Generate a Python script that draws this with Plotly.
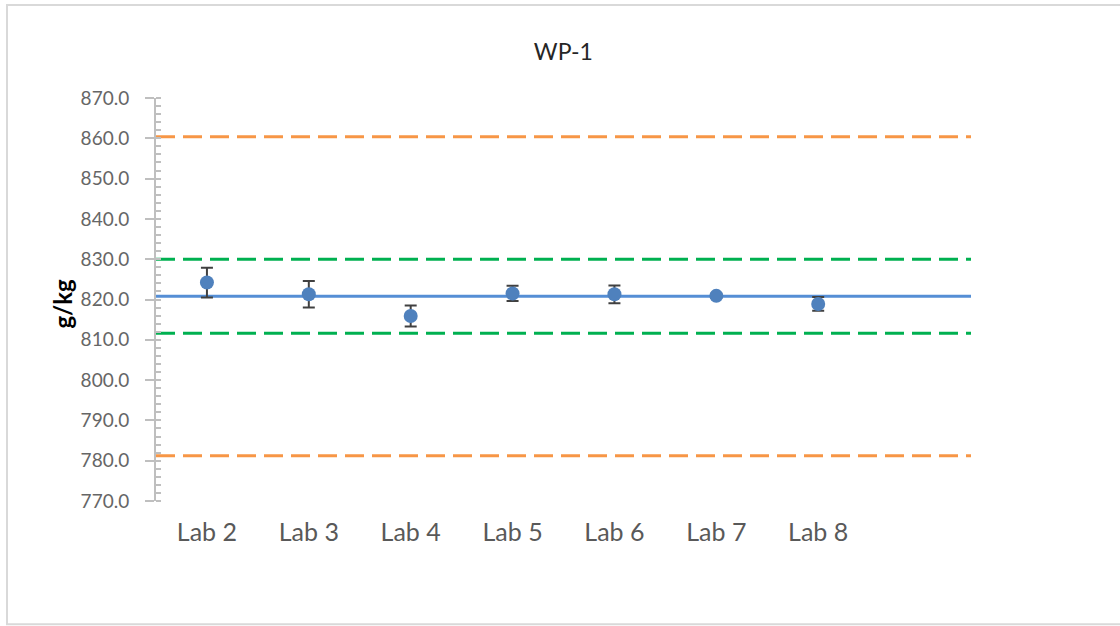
import plotly.graph_objects as go

labs = ["Lab 2", "Lab 3", "Lab 4", "Lab 5", "Lab 6", "Lab 7", "Lab 8"]
values = [824.2, 821.3, 815.9, 821.5, 821.3, 820.9, 818.9]
errors = [3.7, 3.3, 2.6, 1.9, 2.2, 0.5, 1.7]
assigned_value = 820.8
inner_limits = [830.0, 811.6]
outer_limits = [860.4, 781.2]
y_ticks = [770, 780, 790, 800, 810, 820, 830, 840, 850, 860, 870]

x_pos = list(range(len(labs)))

fig = go.Figure()

fig.add_trace(go.Scatter(
    x=x_pos, y=values, mode="markers",
    marker=dict(size=14, color="#4F81BD"),
    error_y=dict(type="data", array=errors, visible=True,
                 color="#404040", thickness=2, width=6),
    showlegend=False, hoverinfo="skip",
))

fig.update_layout(
    width=1120, height=626,
    margin=dict(l=156, r=149, t=98, b=125),
    paper_bgcolor="white", plot_bgcolor="white",
    font=dict(family="Lato, Liberation Sans, sans-serif", color="#595959"),
    title=dict(text="WP-1", x=0.503, xanchor="center", y=0.917, yanchor="middle",
               font=dict(size=23, color="#262626", family="Lato, sans-serif")),
    xaxis=dict(
        range=[-0.5, 7.5], tickvals=x_pos, ticktext=labs,
        showgrid=False, zeroline=False, showline=False, ticks="",
        tickfont=dict(size=25, color="#595959"), ticklabelstandoff=14,
    ),
    yaxis=dict(
        range=[770, 870], tickvals=y_ticks, tickformat=".1f",
        showgrid=False, zeroline=False,
        showline=True, linecolor="#BFBFBF", linewidth=2,
        ticks="outside", ticklen=9, tickwidth=2, tickcolor="#BFBFBF",
        minor=dict(dtick=2, ticks="inside", ticklen=5, tickwidth=2, tickcolor="#BFBFBF"),
        tickfont=dict(size=19, color="#666666"), ticklabelstandoff=12,
    ),
    annotations=[dict(text="<b>g/kg</b>", textangle=-90, xref="paper", yref="paper",
                      x=-0.1153, y=0.49, showarrow=False, xanchor="center", yanchor="middle",
                      font=dict(size=24, color="#000000", family="Lato, sans-serif"))],
)

for yv in outer_limits:
    fig.add_hline(y=yv, line=dict(color="#F79646", width=3, dash="19px,8px"), layer="below")
for yv in inner_limits:
    fig.add_hline(y=yv, line=dict(color="#00B050", width=3, dash="19px,8px"), layer="below")
fig.add_hline(y=assigned_value, line=dict(color="#558ED5", width=3), layer="below")

fig.add_shape(type="rect", xref="paper", yref="paper", x0=-0.1828, x1=1.2, y0=-0.306, y1=1.2308,
              line=dict(color="#D9D9D9", width=2), fillcolor="rgba(0,0,0,0)", layer="below")

fig.write_html("out.html", config={"displayModeBar": False},
               post_script="document.body.style.margin='0';")
